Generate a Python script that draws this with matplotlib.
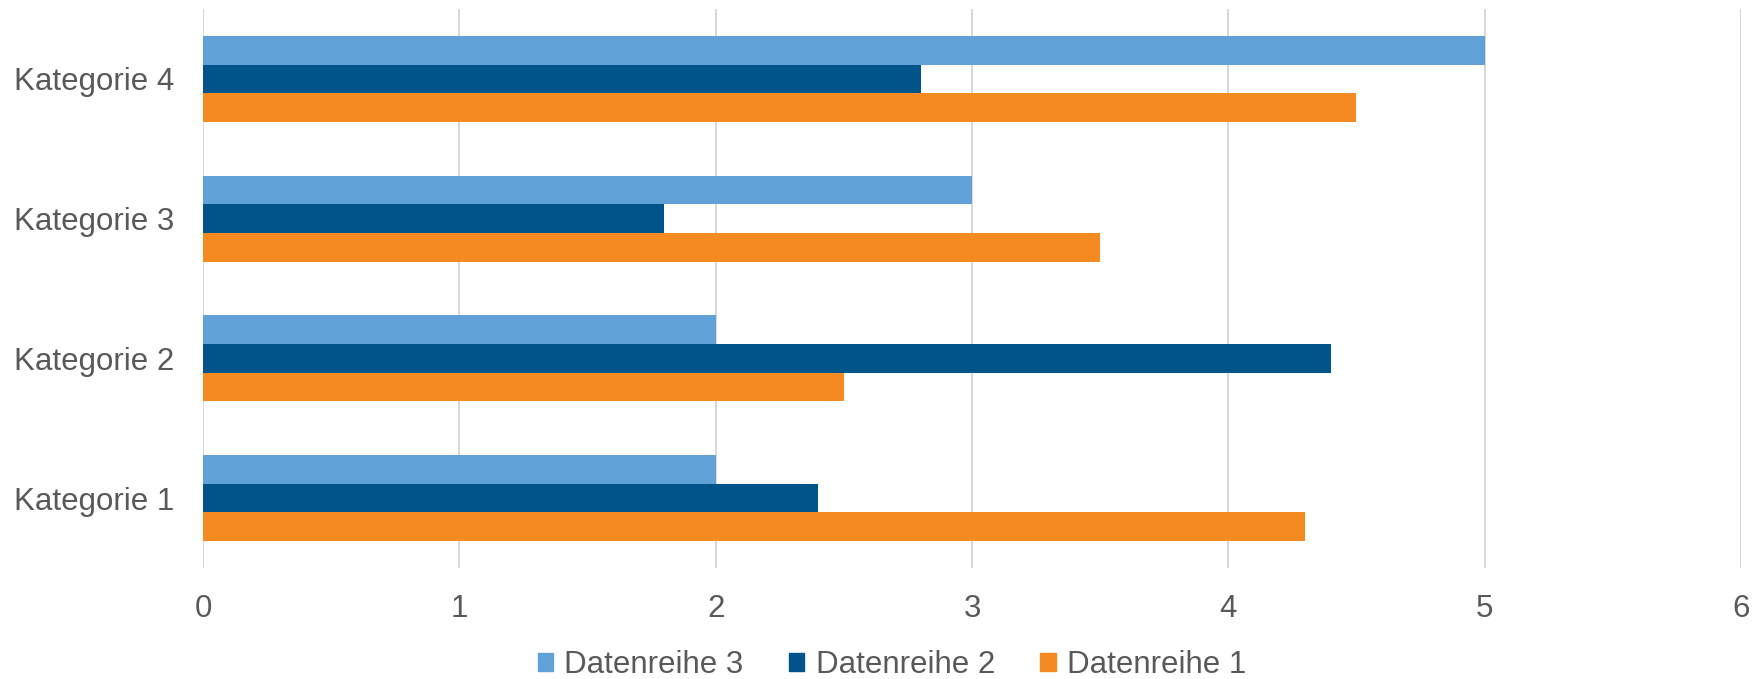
import numpy as np
import matplotlib.pyplot as plt
from matplotlib.patches import Patch

plt.rcParams['font.family'] = ['Liberation Sans', 'DejaVu Sans']

# ============ data ============
categories = ['Kategorie 1', 'Kategorie 2', 'Kategorie 3', 'Kategorie 4']
reihe1 = [4.3, 2.5, 3.5, 4.5]
reihe2 = [2.4, 4.4, 1.8, 2.8]
reihe3 = [2.0, 2.0, 3.0, 5.0]
x_ticks = [0, 1, 2, 3, 4, 5, 6]

c1 = '#F58B20'
c2 = '#00548A'
c3 = '#60A2D8'
txt = '#595959'
grid_c = '#D9D9D9'

fig = plt.figure(figsize=(17.52, 6.79), dpi=100)
ax = fig.add_axes([0.1159, 0.1635, 0.9937 - 0.1159, 0.9867 - 0.1635])

y = np.arange(len(categories))
bw = 0.205
ax.barh(y - bw, reihe1, height=bw, color=c1, zorder=3)
ax.barh(y, reihe2, height=bw, color=c2, zorder=3)
ax.barh(y + bw, reihe3, height=bw, color=c3, zorder=3)

ax.set_xlim(0, 6)
ax.set_ylim(-0.5, 3.5)
ax.set_xticks(x_ticks)
ax.set_yticks(y)
ax.set_yticklabels(categories)
ax.tick_params(axis='both', length=0, labelsize=22.5, labelcolor=txt)
ax.tick_params(axis='y', pad=21)
ax.tick_params(axis='x', pad=19)
ax.grid(axis='x', color=grid_c, linewidth=1.5, zorder=0)
for s in ax.spines.values():
    s.set_visible(False)

handles = [Patch(color=c3, label='Datenreihe 3'),
           Patch(color=c2, label='Datenreihe 2'),
           Patch(color=c1, label='Datenreihe 1')]
leg = fig.legend(handles=handles, loc='center', bbox_to_anchor=(0.509, 0.021),
                 ncol=3, frameon=False, fontsize=22.5, handlelength=0.5,
                 handleheight=0.5, handletextpad=0.36, columnspacing=1.44)
for t in leg.get_texts():
    t.set_color(txt)

plt.savefig('out.png', dpi=100)
